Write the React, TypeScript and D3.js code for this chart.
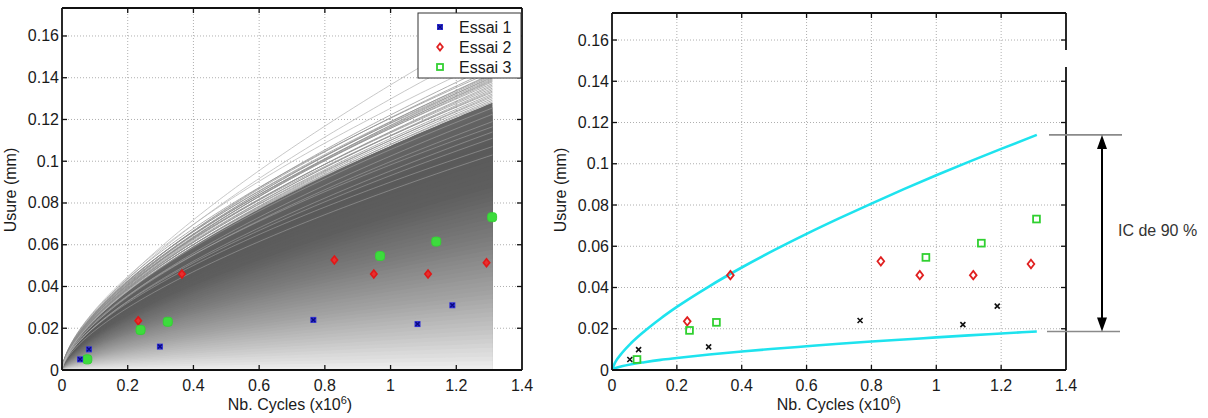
import React from 'react';
import * as d3 from 'd3';

const W = 1208;
const H = 418;

// ticks
const xTicks = [0, 0.2, 0.4, 0.6, 0.8, 1, 1.2, 1.4];
const xTickLabels = ['0', '0.2', '0.4', '0.6', '0.8', '1', '1.2', '1.4'];
const yTicks = [0, 0.02, 0.04, 0.06, 0.08, 0.1, 0.12, 0.14, 0.16];
const yTickLabels = ['0', '0.02', '0.04', '0.06', '0.08', '0.1', '0.12', '0.14', '0.16'];

// measured wear (Nb cycles x1e6, usure mm)
const essai1X = [0.055, 0.082, 0.298, 0.765, 1.082, 1.188];
const essai1Y = [0.0051, 0.0099, 0.0112, 0.024, 0.022, 0.031];
const essai2X = [0.232, 0.365, 0.829, 0.949, 1.114, 1.292];
const essai2Y = [0.0236, 0.046, 0.0527, 0.046, 0.046, 0.0514];
const essai3X = [0.077, 0.239, 0.322, 0.968, 1.139, 1.309];
const essai3Y = [0.0051, 0.0192, 0.0231, 0.0546, 0.0615, 0.0732];

// simulated wear curves (left): value reached at the last cycle and curvature exponent
const simLastCycle = 1.31;
const simCurveEnd = [0.165, 0.156, 0.149, 0.146, 0.144, 0.143, 0.142, 0.1415, 0.141, 0.1405, 0.14, 0.1395, 0.139, 0.1385, 0.138, 0.1372, 0.1365, 0.1358, 0.135, 0.1343, 0.1336, 0.133, 0.1322, 0.1315, 0.1308, 0.13, 0.1292, 0.1284, 0.1276, 0.1268, 0.126, 0.125, 0.124, 0.1228, 0.1215, 0.12, 0.118, 0.116, 0.113, 0.11];
const simCurveExp = [0.70, 0.68, 0.64, 0.66, 0.65, 0.63, 0.66, 0.64, 0.65, 0.67, 0.63, 0.65, 0.66, 0.64, 0.65, 0.63, 0.66, 0.65, 0.64, 0.66, 0.65, 0.63, 0.65, 0.66, 0.64, 0.65, 0.66, 0.64, 0.65, 0.63, 0.65, 0.66, 0.64, 0.65, 0.66, 0.64, 0.65, 0.66, 0.64, 0.65];
const simLightEnd = [0.1285, 0.1255, 0.1225, 0.119, 0.1165, 0.114, 0.111, 0.107, 0.103];
const simLightExp = [0.65, 0.64, 0.66, 0.65, 0.63, 0.66, 0.65, 0.64, 0.66];
// dense envelope of the simulations and its shading (fraction of envelope -> grey)
const bundleEnd = 0.128;
const bundleExp = 0.65;
const shadeFrac = [1.0, 0.85, 0.7, 0.5, 0.3, 0.15, 0.05, 0.0];
const shadeGrey = ['#666666', '#5a5a5a', '#5e5e5e', '#7c7c7c', '#a2a2a2', '#c6c6c6', '#e2e2e2', '#f3f3f3'];

// 90% confidence interval (right)
const ciX = [0, 0.01, 0.03, 0.06, 0.1, 0.15, 0.2, 0.3, 0.4, 0.5, 0.6, 0.7, 0.8, 0.9, 1.0, 1.1, 1.2, 1.31];
const ciUpper = [0, 0.00375, 0.0081, 0.0132, 0.0188, 0.025, 0.0306, 0.0406, 0.0497, 0.0581, 0.066, 0.0735, 0.0807, 0.0877, 0.0944, 0.1009, 0.1072, 0.114];
const ciLower = [0, 0.0009, 0.0018, 0.0028, 0.0038, 0.0049, 0.0058, 0.0075, 0.009, 0.0103, 0.0115, 0.0127, 0.0138, 0.0148, 0.0158, 0.0168, 0.0177, 0.0187];

const FONT = 'Liberation Sans, Arial, Helvetica, sans-serif';

const L = { x0: 62, x1: 522, top: 8, bot: 370 };
const R = { x0: 612, x1: 1066, top: 13, bot: 370 };

const xL = d3.scaleLinear().domain([0, 1.4]).range([L.x0, L.x1]);
const yL = d3.scaleLinear().domain([0, 0.1734]).range([L.bot, L.top]);
const xR = d3.scaleLinear().domain([0, 1.4]).range([R.x0, R.x1]);
const yR = d3.scaleLinear().domain([0, 0.1731]).range([R.bot, R.top]);

const sampleX = d3.range(0, 121).map((i) => simLastCycle * Math.pow(i / 120, 1.6));
const power = (end: number, ex: number) => (x: number) => end * Math.pow(x / simLastCycle, ex);

function Grid({ xs, ys, box }: any) {
  return (
    <g stroke="#9a9a9a" strokeWidth={0.8} strokeDasharray="1,2">
      {xTicks.slice(1, -1).map((t) => (
        <line key={'gx' + t} x1={xs(t)} x2={xs(t)} y1={box.top} y2={box.bot} />
      ))}
      {yTicks.slice(1).map((t) => (
        <line key={'gy' + t} x1={box.x0} x2={box.x1} y1={ys(t)} y2={ys(t)} />
      ))}
    </g>
  );
}

function Axes({ xs, ys, box, gap, labelShift }: any) {
  const tl = 5;
  return (
    <g>
      <g stroke="#111" strokeWidth={1.3}>
        {xTicks.slice(1, -1).map((t) => (
          <g key={'tx' + t}>
            <line x1={xs(t)} x2={xs(t)} y1={box.bot} y2={box.bot - tl} />
            <line x1={xs(t)} x2={xs(t)} y1={box.top} y2={box.top + tl} />
          </g>
        ))}
        {yTicks.slice(1).map((t) => (
          <g key={'ty' + t}>
            <line x1={box.x0} x2={box.x0 + tl} y1={ys(t)} y2={ys(t)} />
            <line x1={box.x1} x2={box.x1 - tl} y1={ys(t)} y2={ys(t)} />
          </g>
        ))}
      </g>
      <g stroke="#111" strokeWidth={1.8} fill="none">
        <line x1={box.x0} x2={box.x1} y1={box.top} y2={box.top} />
        <line x1={box.x0} x2={box.x1} y1={box.bot} y2={box.bot} />
        <line x1={box.x0} x2={box.x0} y1={box.top} y2={box.bot} />
        {gap ? (
          <g>
            <line x1={box.x1} x2={box.x1} y1={box.top} y2={gap[0]} />
            <line x1={box.x1} x2={box.x1} y1={gap[1]} y2={box.bot} />
          </g>
        ) : (
          <line x1={box.x1} x2={box.x1} y1={box.top} y2={box.bot} />
        )}
      </g>
      <g fontFamily={FONT} fontSize={16} fill="#1a1a1a">
        {xTicks.map((t, i) => (
          <text key={'lx' + t} x={xs(t)} y={box.bot + 21} textAnchor="middle">
            {xTickLabels[i]}
          </text>
        ))}
        {yTicks.map((t, i) => (
          <text key={'ly' + t} x={box.x0 - 3} y={ys(t) + 5.5} textAnchor="end">
            {yTickLabels[i]}
          </text>
        ))}
      </g>
      <text
        fontFamily={FONT}
        fontSize={16}
        fill="#1a1a1a"
        x={(box.x0 + box.x1) / 2 + labelShift}
        y={410}
        textAnchor="middle"
      >
        Nb. Cycles (x10<tspan dy={-6} fontSize={11}>6</tspan>
        <tspan dy={6}>)</tspan>
      </text>
      <text
        fontFamily={FONT}
        fontSize={16}
        fill="#1a1a1a"
        transform={`translate(${box.x0 - 46},190) rotate(-90)`}
        textAnchor="middle"
      >
        Usure (mm)
      </text>
    </g>
  );
}

function xMark(x: number, y: number, s: number, color: string, w: number, key: string) {
  return (
    <path
      key={key}
      d={`M${x - s},${y - s}L${x + s},${y + s}M${x - s},${y + s}L${x + s},${y - s}`}
      stroke={color}
      strokeWidth={w}
      fill="none"
    />
  );
}

function diamond(x: number, y: number, s: number, key: string, fill: string, stroke: string, w: number) {
  return (
    <path
      key={key}
      d={`M${x},${y - s}L${x + s * 0.8},${y}L${x},${y + s}L${x - s * 0.8},${y}Z`}
      fill={fill}
      stroke={stroke}
      strokeWidth={w}
    />
  );
}

function square(x: number, y: number, s: number, key: string, fill: string, stroke: string, w: number) {
  return <rect key={key} x={x - s} y={y - s} width={2 * s} height={2 * s} fill={fill} stroke={stroke} strokeWidth={w} />;
}

function LeftChart() {
  const shade = d3.scaleLinear<string>().domain(shadeFrac.slice().reverse()).range(shadeGrey.slice().reverse());
  const env = power(bundleEnd, bundleExp);
  const levels = d3.range(60, 0, -1).map((i) => i / 60);
  const area = (f: number) =>
    d3
      .area<number>()
      .x((x) => xL(x))
      .y0(yL(0))
      .y1((x) => yL(f * env(x)))(sampleX) as string;
  const line = (end: number, ex: number) =>
    d3
      .line<number>()
      .x((x) => xL(x))
      .y((x) => yL(power(end, ex)(x)))(sampleX) as string;
  return (
    <g>
      <Grid xs={xL} ys={yL} box={L} />
      <g>
        {simCurveEnd.map((e, i) => (
          <path key={'sc' + i} d={line(e, simCurveExp[i])} fill="none" stroke={i < 3 ? '#b0b0b0' : '#8c8c8c'} strokeWidth={0.7} />
        ))}
      </g>
      <g>
        {levels.map((f) => (
          <path key={'lv' + f} d={area(f)} fill={shade(f)} stroke="none" />
        ))}
      </g>
      <g>
        {simLightEnd.map((e, i) => (
          <path key={'sl' + i} d={line(e, simLightExp[i])} fill="none" stroke="#bdbdbd" strokeWidth={0.6} opacity={0.7} />
        ))}
      </g>
      <g>
        {essai2X.map((x, i) => diamond(xL(x), yL(essai2Y[i]), 4, 'e2' + i, '#e83030', '#e01818', 1.6))}
        {essai3X.map((x, i) => (
          <rect key={'e3' + i} x={xL(x) - 4.5} y={yL(essai3Y[i]) - 4.5} width={9} height={9} rx={3} fill="#3ddc3d" stroke="#35cf35" strokeWidth={1} />
        ))}
        {essai1X.map((x, i) => (
          <g key={'e1' + i}>
            <rect x={xL(x) - 3} y={yL(essai1Y[i]) - 3} width={6} height={6} fill="#3030d8" />
            {xMark(xL(x), yL(essai1Y[i]), 2, '#0a0a80', 1.4, 'e1x' + i)}
          </g>
        ))}
      </g>
      <Axes xs={xL} ys={yL} box={L} labelShift={-2} />
      <g>
        <rect x={418} y={13} width={103} height={65} fill="#fff" stroke="#333" strokeWidth={1} />
        <rect x={437} y={24} width={6} height={6} fill="#2a2ad0" />
        {xMark(440, 27, 2, '#0a0a80', 1.2, 'lgx')}
        {diamond(440, 47, 3.5, 'lgd', '#fff', '#e02020', 1.8)}
        {square(440, 67, 3, 'lgs', '#fff', '#33d033', 1.8)}
        <g fontFamily={FONT} fontSize={16} fill="#1a1a1a">
          <text x={459} y={33}>Essai 1</text>
          <text x={459} y={53}>Essai 2</text>
          <text x={459} y={73}>Essai 3</text>
        </g>
      </g>
    </g>
  );
}

function RightChart() {
  const ci = (vals: number[]) =>
    d3
      .line<number>()
      .x((x) => xR(x))
      .y((_, i) => yR(vals[i]))
      .curve(d3.curveMonotoneX)(ciX) as string;
  const yUp = yR(ciUpper[ciUpper.length - 1]);
  const yLo = yR(ciLower[ciLower.length - 1]);
  const ax = 1102;
  return (
    <g>
      <Grid xs={xR} ys={yR} box={R} />
      <path d={ci(ciUpper)} fill="none" stroke="#1ee3ee" strokeWidth={2.6} />
      <path d={ci(ciLower)} fill="none" stroke="#1ee3ee" strokeWidth={2.6} />
      <g>
        {essai1X.map((x, i) => xMark(xR(x), yR(essai1Y[i]), 2.5, '#111', 1.6, 'r1' + i))}
        {essai2X.map((x, i) => diamond(xR(x), yR(essai2Y[i]), 4.2, 'r2' + i, 'none', '#e02020', 1.8))}
        {essai3X.map((x, i) => square(xR(x), yR(essai3Y[i]), 3.4, 'r3' + i, 'none', '#30d030', 1.8))}
      </g>
      <Axes xs={xR} ys={yR} box={R} gap={[50, 67]} labelShift={0} />
      <g stroke="#8a8a8a" strokeWidth={1.6}>
        <line x1={1049} x2={1122} y1={yUp} y2={yUp} />
        <line x1={1047} x2={1120} y1={yLo} y2={yLo} />
      </g>
      <line x1={ax} x2={ax} y1={yUp + 12} y2={yLo - 12} stroke="#000" strokeWidth={2} />
      <path d={`M${ax},${yUp}L${ax - 5},${yUp + 14}L${ax + 5},${yUp + 14}Z`} fill="#000" />
      <path d={`M${ax},${yLo}L${ax - 5},${yLo - 14}L${ax + 5},${yLo - 14}Z`} fill="#000" />
      <text x={1118} y={236} fontFamily={FONT} fontSize={16} fill="#333">
        IC de 90 %
      </text>
    </g>
  );
}

export default function App() {
  return (
    <svg
      width={W}
      height={H}
      viewBox={`0 0 ${W} ${H}`}
      style={{ position: 'absolute', left: 0, top: 0, background: '#fff' }}
    >
      <rect x={0} y={0} width={W} height={H} fill="#fff" />
      <LeftChart />
      <RightChart />
    </svg>
  );
}
